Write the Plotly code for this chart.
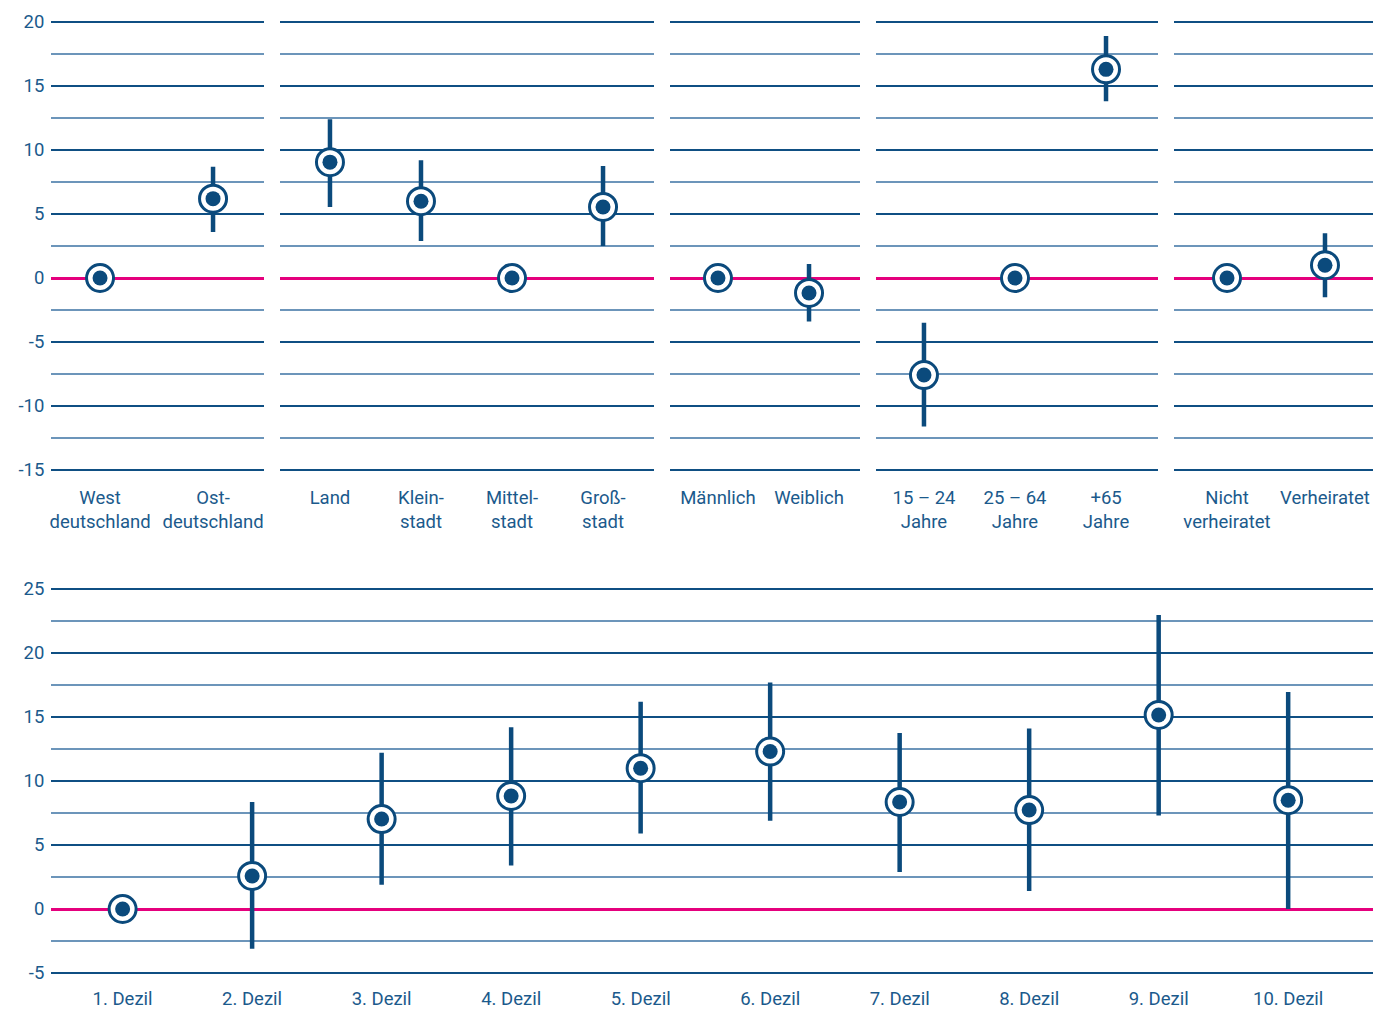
import plotly.graph_objects as go

# ---------------- data ----------------
region_cats = ["West<br>deutschland", "Ost-<br>deutschland"]
region_est = [0, 6.2]
region_lo = [0, 3.6]
region_hi = [0, 8.7]

town_cats = ["Land", "Klein-<br>stadt", "Mittel-<br>stadt", "Groß-<br>stadt"]
town_est = [9.05, 6.0, 0, 5.55]
town_lo = [5.55, 2.9, 0, 2.5]
town_hi = [12.4, 9.2, 0, 8.75]

sex_cats = ["Männlich", "Weiblich"]
sex_est = [0, -1.17]
sex_lo = [0, -3.4]
sex_hi = [0, 1.1]

age_cats = ["15 – 24<br>Jahre", "25 – 64<br>Jahre", "+65<br>Jahre"]
age_est = [-7.58, 0, 16.3]
age_lo = [-11.6, 0, 13.8]
age_hi = [-3.5, 0, 18.9]

mar_cats = ["Nicht<br>verheiratet", "Verheiratet"]
mar_est = [0, 1.0]
mar_lo = [0, -1.5]
mar_hi = [0, 3.5]

dez_cats = ["1. Dezil", "2. Dezil", "3. Dezil", "4. Dezil", "5. Dezil",
            "6. Dezil", "7. Dezil", "8. Dezil", "9. Dezil", "10. Dezil"]
dez_est = [0, 2.58, 7.03, 8.83, 11.0, 12.3, 8.36, 7.73, 15.16, 8.5]
dez_lo = [0, -3.1, 1.9, 3.4, 5.9, 6.9, 2.9, 1.4, 7.3, 0]
dez_hi = [0, 8.36, 12.2, 14.2, 16.2, 17.7, 13.75, 14.1, 22.97, 16.95]

top_ticks = [-15, -10, -5, 0, 5, 10, 15, 20]
bottom_ticks = [-5, 0, 5, 10, 15, 20, 25]

# ---------------- style ----------------
W, H = 1373, 1009
BLUE = "#0b4a7c"
TXT = "#1b5a8c"
MAJ = "#0f4f83"
MINC = "#6c95ba"
PINK = "#e5007d"
FONT = "Roboto"
FS = 18.5

panels = [
    (region_cats, region_est, region_lo, region_hi, (51, 264), (-0.434, 1.451), "top"),
    (town_cats, town_est, town_lo, town_hi, (280, 654), (-0.549, 3.560), "top"),
    (sex_cats, sex_est, sex_lo, sex_hi, (670, 860), (-0.527, 1.560), "top"),
    (age_cats, age_est, age_lo, age_hi, (876, 1158), (-0.527, 2.571), "top"),
    (mar_cats, mar_est, mar_lo, mar_hi, (1174, 1373), (-0.541, 1.490), "top"),
    (dez_cats, dez_est, dez_lo, dez_hi, (51, 1373), (-0.553, 9.655), "bottom"),
]

PXU = 12.8
top_range = [-15.3, 20.3]
bot_range = [-5.3, 25.3]


def ydomain(zero_px, rng):
    top_px = zero_px - PXU * rng[1]
    bot_px = zero_px - PXU * rng[0]
    return [1 - bot_px / H, 1 - top_px / H]


fig = go.Figure()
layout = {}

for i, (cats, est, lo, hi, xpx, xr, row) in enumerate(panels):
    n = "" if i == 0 else str(i + 1)
    xa, ya = "x" + n, "y" + n
    plus = [h - e for h, e in zip(hi, est)]
    minus = [e - l for e, l in zip(est, lo)]
    fig.add_trace(go.Scatter(
        x=cats, y=est, xaxis=xa, yaxis=ya, mode="markers",
        marker=dict(size=1, color="rgba(0,0,0,0)"),
        error_y=dict(type="data", array=plus, arrayminus=minus,
                     color=BLUE, thickness=4.5, width=0, visible=True),
        showlegend=False, hoverinfo="skip"))
    fig.add_trace(go.Scatter(
        x=cats, y=est, xaxis=xa, yaxis=ya, mode="markers",
        marker=dict(size=27, color="white", line=dict(color=BLUE, width=3)),
        showlegend=False, hoverinfo="skip"))
    fig.add_trace(go.Scatter(
        x=cats, y=est, xaxis=xa, yaxis=ya, mode="markers",
        marker=dict(size=15, color=BLUE, line=dict(width=0)),
        showlegend=False))

    if row == "top":
        rng, zero_px, ticks, tl = top_range, 278, top_ticks, 7
    else:
        rng, zero_px, ticks, tl = bot_range, 909, bottom_ticks, 5

    layout["xaxis" + n] = dict(
        type="category", range=list(xr), domain=[xpx[0] / W, xpx[1] / W],
        anchor=ya, showgrid=False, zeroline=False, showline=False,
        ticks="outside", ticklen=tl, tickcolor="rgba(0,0,0,0)",
        tickfont=dict(family=FONT, size=FS, color=TXT), fixedrange=True)
    layout["yaxis" + n] = dict(
        range=rng, domain=ydomain(zero_px, rng), anchor=xa,
        tickvals=ticks, ticktext=[str(t) for t in ticks],
        showticklabels=(i == 0 or row == "bottom"),
        showgrid=True, gridcolor=MAJ, gridwidth=2,
        minor=dict(dtick=2.5, tick0=0, showgrid=True, gridcolor=MINC, gridwidth=1.6),
        zeroline=True, zerolinecolor=PINK, zerolinewidth=2.6,
        showline=False, ticks="outside", ticklen=2, tickcolor="rgba(0,0,0,0)",
        tickfont=dict(family=FONT, size=FS, color=TXT), fixedrange=True)

fig.update_layout(
    width=W, height=H, margin=dict(l=0, r=0, t=0, b=0, autoexpand=False),
    plot_bgcolor="white", paper_bgcolor="white",
    font=dict(family=FONT, color=TXT), **layout)

fig.write_html("out.html", config={"displayModeBar": False},
               post_script="document.body.style.margin='0';document.body.style.overflow='hidden';")
